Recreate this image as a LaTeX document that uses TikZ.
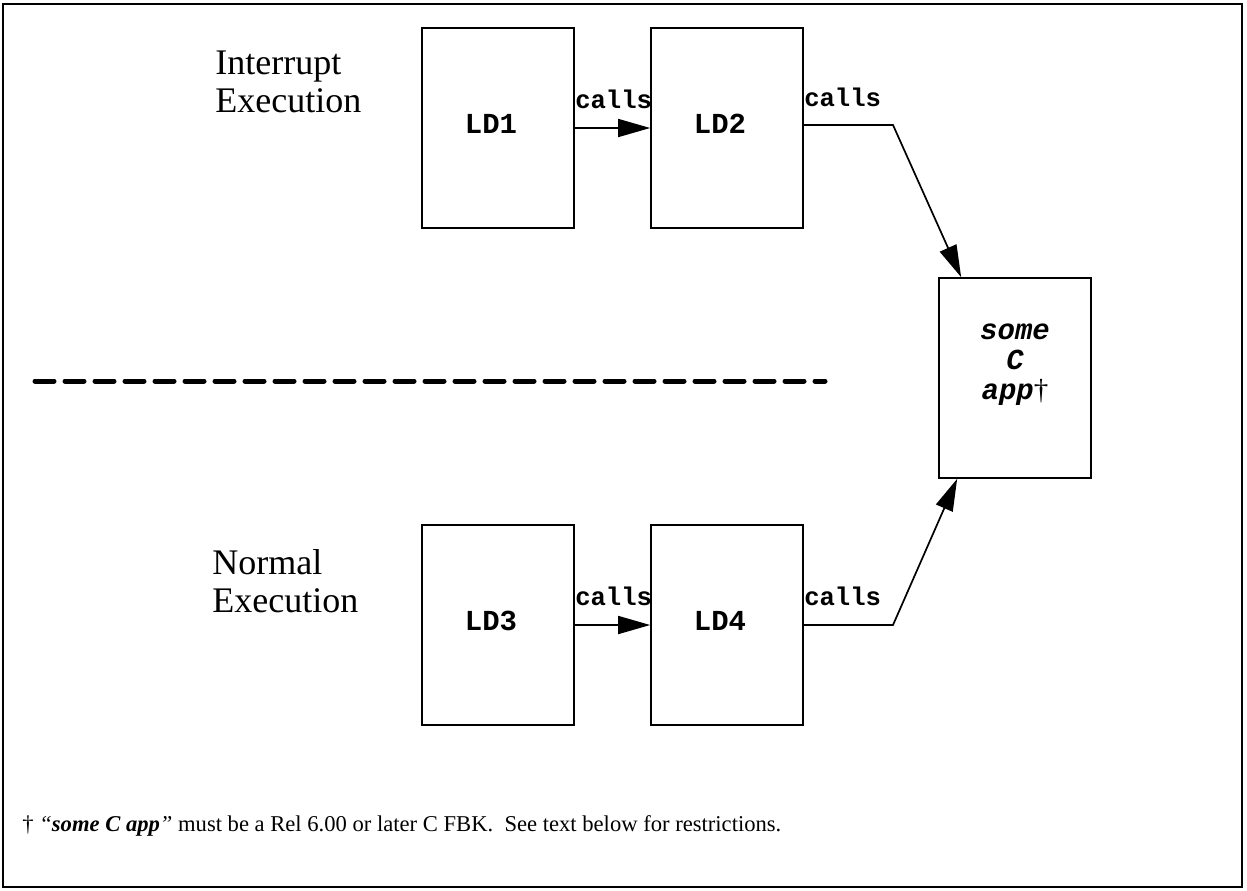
\documentclass[tikz,border=0pt]{standalone}
\usepackage{fontspec}
\setmainfont{Liberation Serif}
\setmonofont{Liberation Mono}
\usetikzlibrary{arrows.meta}

\tikzset{
  ldbox/.style={draw, line width=0.85pt, minimum width=76pt, minimum height=100pt},
  ldtxt/.style={inner sep=0pt, xshift=-3.5pt, yshift=2pt,
    font=\ttfamily\bfseries\fontsize{14.5}{16}\selectfont},
  callstxt/.style={inner sep=0pt, font=\ttfamily\bfseries\fontsize{12.8}{14}\selectfont},
  side/.style={align=left, inner sep=0pt, font=\fontsize{18}{19}\selectfont},
  arr/.style={line width=0.85pt, -{Triangle[length=16pt, width=9pt]}},
}

\begin{document}
\begin{tikzpicture}[x=0.5pt, y=-0.5pt]
  \def\xa{498}
  \def\xb{727}
  \def\ytop{128}
  \def\ybot{625}

  \useasboundingbox (0,0) rectangle (1247,890);
  \draw[line width=0.8pt] (3,4) rectangle (1242,887);

  \node[side, anchor=west] (intr) at (215,82) {Interrupt\\Execution};
  \node[side, anchor=west] (norm) at (212,581) {Normal\\Execution};

  \node[ldbox, label={[ldtxt]center:LD1}] (LD1) at (\xa, \ytop) {};
  \node[ldbox, label={[ldtxt]center:LD2}] (LD2) at (\xb, \ytop) {};
  \node[ldbox, label={[ldtxt]center:LD3}] (LD3) at (\xa, \ybot) {};
  \node[ldbox, label={[ldtxt]center:LD4}] (LD4) at (\xb, \ybot) {};

  \node[ldbox] (C) at (1015,378) {};
  \node[align=center, inner sep=0pt, font=\ttfamily\bfseries\itshape\fontsize{14.5}{15}\selectfont]
    (Ctxt) at ([yshift=6.5pt]C.center) {some\\C\\app\rmfamily\mdseries\upshape\dag};

  \coordinate (k1) at (893,125);
  \coordinate (k2) at (893,625);
  \coordinate (dl) at (35,381);
  \coordinate (dr) at (825,381);

  \draw[arr] (LD1) -- (LD2);
  \draw[arr] (LD3) -- (LD4);
  \draw[arr] ([yshift=1.5pt]LD2.east) -- (k1) -- ([xshift=11.5pt]C.north west);
  \draw[arr] (LD4.east) -- (k2) -- ([xshift=9.5pt]C.south west);

  \node[callstxt, anchor=base west] (c1) at ([yshift=10pt]LD1.east) {calls};
  \node[callstxt, anchor=base west] (c2) at ([yshift=11pt]LD2.east) {calls};
  \node[callstxt, anchor=base west] (c3) at ([yshift=10pt]LD3.east) {calls};
  \node[callstxt, anchor=base west] (c4) at ([yshift=10pt]LD4.east) {calls};

  \draw[line width=2.5pt, line cap=round, dash pattern=on 9.5pt off 5.5pt] (dl) -- (dr);

  \node[anchor=west, inner sep=0pt, font=\fontsize{11.3}{13}\selectfont] (note) at (22,826)
    {\dag\ \textit{``\textbf{some C app}''} must be a Rel 6.00 or later C FBK.\ \ See text below for restrictions.};
\end{tikzpicture}
\end{document}
